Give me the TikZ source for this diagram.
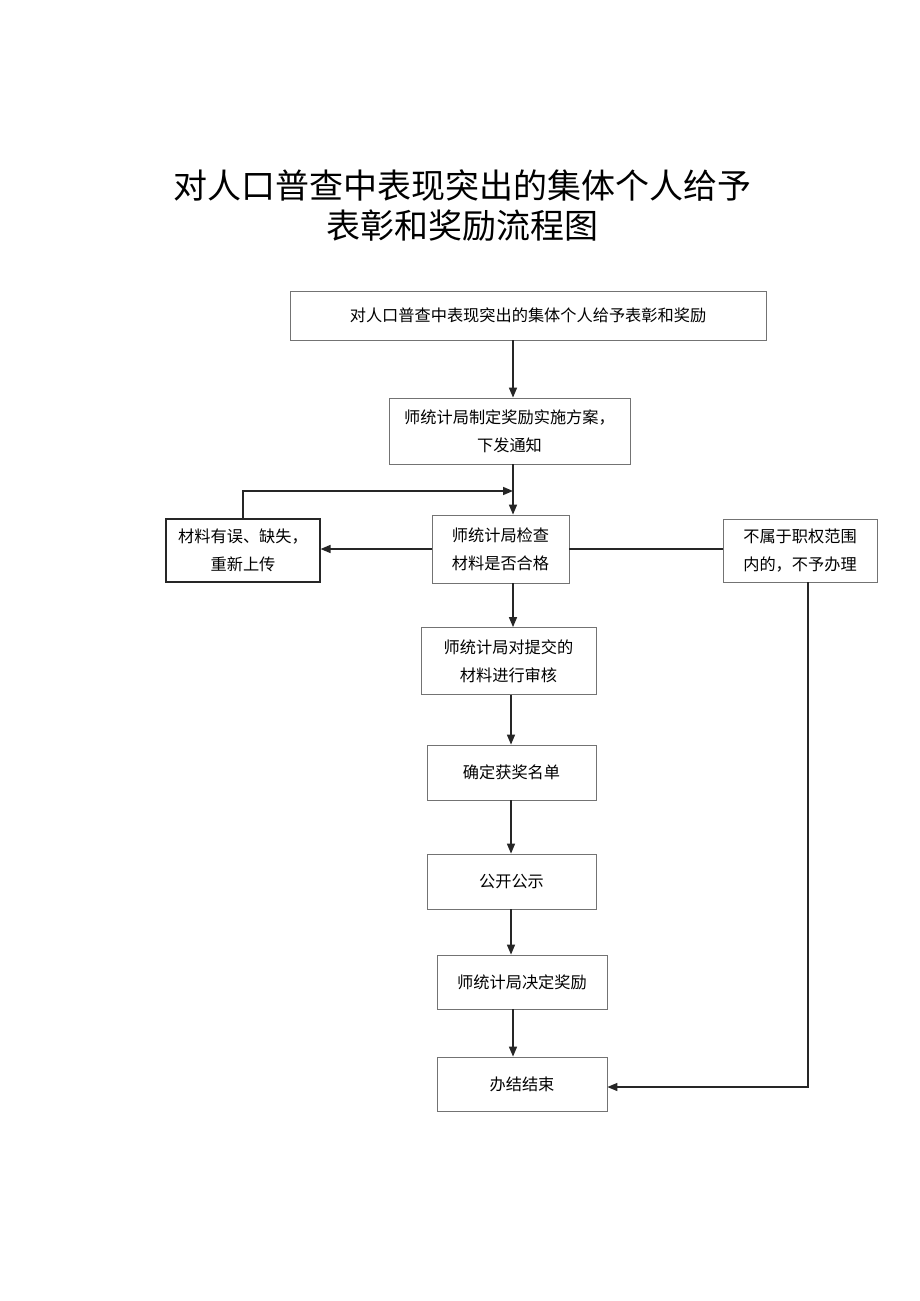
\documentclass[tikz,border=0pt]{standalone}
\usepackage{fontspec}
\setmainfont{Noto Sans CJK SC}
\usepackage{tikz}
\usetikzlibrary{arrows.meta}

\begin{document}
\begin{tikzpicture}[x=1pt,y=-1pt,
    stepbox/.style={draw=black!55,line width=0.8pt,align=center,inner sep=0pt,
      font=\fontsize{16.2}{28}\selectfont},
    flow/.style={line width=1.5pt,black!85},
    arr/.style={flow,-{Triangle[length=10pt,width=8pt]}}]
  \useasboundingbox (0,0) rectangle (920,1301);
  \fill[white] (0,0) rectangle (920,1301);
  % title
  \node (title) at (462,206) [align=center,font=\fontsize{34}{40}\selectfont]
    {对人口普查中表现突出的集体个人给予\\表彰和奖励流程图};
  % boxes
  \node[stepbox,minimum width=476,minimum height=49] (start) at (528,315.5)
    {对人口普查中表现突出的集体个人给予表彰和奖励};
  \node[stepbox,minimum width=241,minimum height=66] (plan) at (509.5,431)
    {师统计局制定奖励实施方案，\\下发通知};
  \node[stepbox,minimum width=137,minimum height=68] (check) at (500.5,549)
    {师统计局检查\\材料是否合格};
  \node[stepbox,draw=black!85,line width=1.1pt,minimum width=154,minimum height=63] (redo) at (243,550.5)
    {材料有误、缺失，\\重新上传};
  \node[stepbox,minimum width=154,minimum height=63] (outside) at (800,550.5)
    {不属于职权范围\\内的，不予办理};
  \node[stepbox,minimum width=175,minimum height=67] (review) at (508.5,661)
    {师统计局对提交的\\材料进行审核};
  \node[stepbox,minimum width=169,minimum height=55] (list) at (511.5,772.5)
    {确定获奖名单};
  \node[stepbox,minimum width=169,minimum height=55] (publish) at (511.5,881.5)
    {公开公示};
  \node[stepbox,minimum width=170,minimum height=54] (decide) at (522,982)
    {师统计局决定奖励};
  \node[stepbox,minimum width=170,minimum height=54] (finish) at (522,1084)
    {办结结束};
  % connectors
  \coordinate (axis) at (513,0);
  \coordinate (lower) at (511,0);
  \coordinate (merge) at (513,491);
  \draw[arr] (start.south -| axis) -- (plan.north -| axis);
  \draw[arr] (plan.south -| axis) -- (check.north -| axis);
  \draw[arr] (redo.north) |- (merge);
  \draw[arr] (check.west) -- (check.west -| redo.east);
  \draw[flow] (check.east) -- (check.east -| outside.west);
  \draw[arr] ([xshift=8]outside.south) |- ([yshift=-3]finish.east);
  \draw[arr] (check.south -| axis) -- (review.north -| axis);
  \draw[arr] (review.south -| lower) -- (list.north -| lower);
  \draw[arr] (list.south -| lower) -- (publish.north -| lower);
  \draw[arr] (publish.south -| lower) -- (decide.north -| lower);
  \draw[arr] (decide.south -| axis) -- (finish.north -| axis);
\end{tikzpicture}
\end{document}
